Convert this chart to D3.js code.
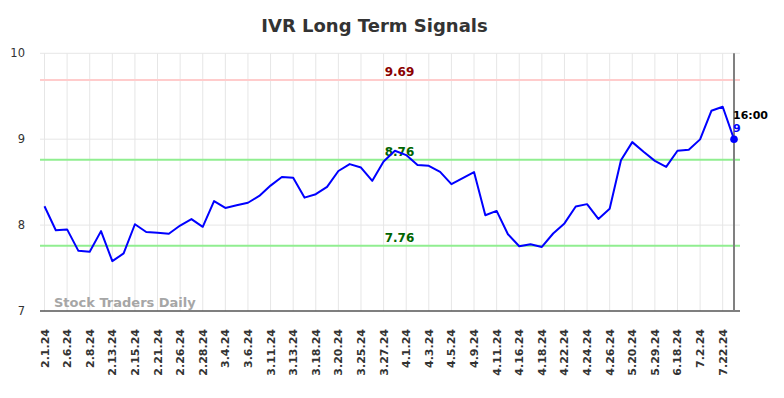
<!DOCTYPE html>
<html>
<head>
<meta charset="utf-8">
<script src="https://cdn.jsdelivr.net/npm/d3@7"></script>
<style>
  html, body { margin: 0; padding: 0; background: #fff; }
  svg { display: block; font-family: "DejaVu Sans", sans-serif; }
</style>
</head>
<body>
<svg id="chart" width="784" height="398"></svg>
<script>
const title = "IVR Long Term Signals";
const tickLabels = ["2.1.24","2.6.24","2.8.24","2.13.24","2.15.24","2.21.24","2.26.24","2.28.24","3.4.24","3.6.24","3.11.24","3.13.24","3.18.24","3.20.24","3.25.24","3.27.24","4.1.24","4.3.24","4.5.24","4.9.24","4.11.24","4.16.24","4.18.24","4.22.24","4.24.24","4.26.24","5.20.24","5.29.24","6.18.24","7.2.24","7.22.24"];
const values = [8.22,7.94,7.95,7.70,7.69,7.93,7.58,7.67,8.01,7.92,7.91,7.90,7.995,8.07,7.98,8.28,8.20,8.23,8.26,8.34,8.46,8.56,8.55,8.32,8.36,8.445,8.63,8.71,8.67,8.515,8.74,8.865,8.815,8.70,8.69,8.62,8.477,8.547,8.617,8.115,8.165,7.894,7.754,7.777,7.746,7.902,8.02,8.217,8.244,8.072,8.19,8.756,8.966,8.853,8.748,8.678,8.865,8.876,8.998,9.331,9.378,9.0];
const yTicks = [7, 8, 9, 10];
const signalLevels = [9.69, 8.76, 7.76];
const signalKinds = ["resistance", "support", "support"];
const lastTimeLabel = "16:00";
const lastValueLabel = "9";
const watermark = "Stock Traders Daily";

const svg = d3.select("#chart");
const plotLeft = 40, plotRight = 740, plotTop = 53.3, plotBottom = 311;

const x = d3.scaleLinear().domain([0, values.length - 1]).range([44.5, 734]);
const y = d3.scaleLinear().domain([7, 10]).range([plotBottom, plotTop]);

const lineColors = { resistance: "#ffcccc", support: "#90ee90" };
const textColors = { resistance: "#8b0000", support: "#006400" };

// Title
svg.append("text")
  .attr("x", 374.5).attr("y", 31.7)
  .attr("text-anchor", "middle")
  .attr("font-size", 18).attr("font-weight", "bold")
  .attr("fill", "#333")
  .text(title);

// Horizontal grid
svg.append("g").selectAll("line")
  .data(yTicks.filter(t => t !== 7))
  .join("line")
  .attr("x1", plotLeft).attr("x2", plotRight)
  .attr("y1", d => y(d)).attr("y2", d => y(d))
  .attr("stroke", "#e6e6e6").attr("stroke-width", 1);

// Vertical grid at labelled points
const tickIdx = tickLabels.map((_, i) => i * 2);
svg.append("g").selectAll("line")
  .data(tickIdx)
  .join("line")
  .attr("x1", d => x(d)).attr("x2", d => x(d))
  .attr("y1", plotTop).attr("y2", plotBottom)
  .attr("stroke", "#e6e6e6").attr("stroke-width", 1);

// Y axis labels
const yAxis = d3.axisLeft(y).tickValues(yTicks).tickSize(0).tickPadding(0).tickFormat(d3.format("d"));
const yg = svg.append("g").attr("transform", "translate(25,0)").call(yAxis);
yg.select(".domain").remove();
yg.selectAll("text").attr("font-size", 11.5).attr("fill", "#333").attr("font-family", "DejaVu Sans, sans-serif");

// Watermark
svg.append("text")
  .attr("x", 54).attr("y", 307)
  .attr("font-size", 13).attr("font-weight", "bold")
  .attr("fill", "#a6a6a6")
  .text(watermark);

// Signal lines
svg.append("g").selectAll("line")
  .data(signalLevels)
  .join("line")
  .attr("x1", plotLeft).attr("x2", plotRight)
  .attr("y1", d => y(d)).attr("y2", d => y(d))
  .attr("stroke", (d, i) => lineColors[signalKinds[i]]).attr("stroke-width", 2);

svg.append("g").selectAll("text")
  .data(signalLevels)
  .join("text")
  .attr("x", 399.5).attr("y", d => y(d) - 4)
  .attr("text-anchor", "middle")
  .attr("font-size", 12).attr("font-weight", "bold")
  .attr("fill", (d, i) => textColors[signalKinds[i]])
  .text(d => d.toFixed(2));

// X axis line
svg.append("line")
  .attr("x1", plotLeft).attr("x2", plotRight)
  .attr("y1", plotBottom).attr("y2", plotBottom)
  .attr("stroke", "#555").attr("stroke-width", 1.5);

// Right marker line
svg.append("line")
  .attr("x1", x(values.length - 1)).attr("x2", x(values.length - 1))
  .attr("y1", plotTop).attr("y2", plotBottom)
  .attr("stroke", "#808080").attr("stroke-width", 2);

// X labels
svg.append("g").selectAll("text")
  .data(tickLabels)
  .join("text")
  .attr("transform", (d, i) => `translate(${x(i * 2) + 4},329) rotate(-90)`)
  .attr("text-anchor", "end")
  .attr("font-size", 11).attr("font-weight", "bold")
  .attr("fill", "#333")
  .text(d => d);

// Price line
const line = d3.line().x((d, i) => x(i)).y(d => y(d));
svg.append("path")
  .datum(values)
  .attr("d", line)
  .attr("fill", "none")
  .attr("stroke", "#0000ff")
  .attr("stroke-width", 2)
  .attr("stroke-linejoin", "round");

// Last point
const li = values.length - 1;
svg.append("circle")
  .attr("cx", x(li)).attr("cy", y(values[li]))
  .attr("r", 3.8).attr("fill", "#0000ff");

svg.append("text")
  .attr("x", x(li) - 1).attr("y", y(values[li]) - 20)
  .attr("font-size", 11).attr("font-weight", "bold")
  .attr("fill", "#000")
  .text(lastTimeLabel);

svg.append("text")
  .attr("x", x(li) - 1).attr("y", y(values[li]) - 7)
  .attr("font-size", 11).attr("font-weight", "bold")
  .attr("fill", "#0000ff")
  .text(lastValueLabel);
</script>
</body>
</html>
